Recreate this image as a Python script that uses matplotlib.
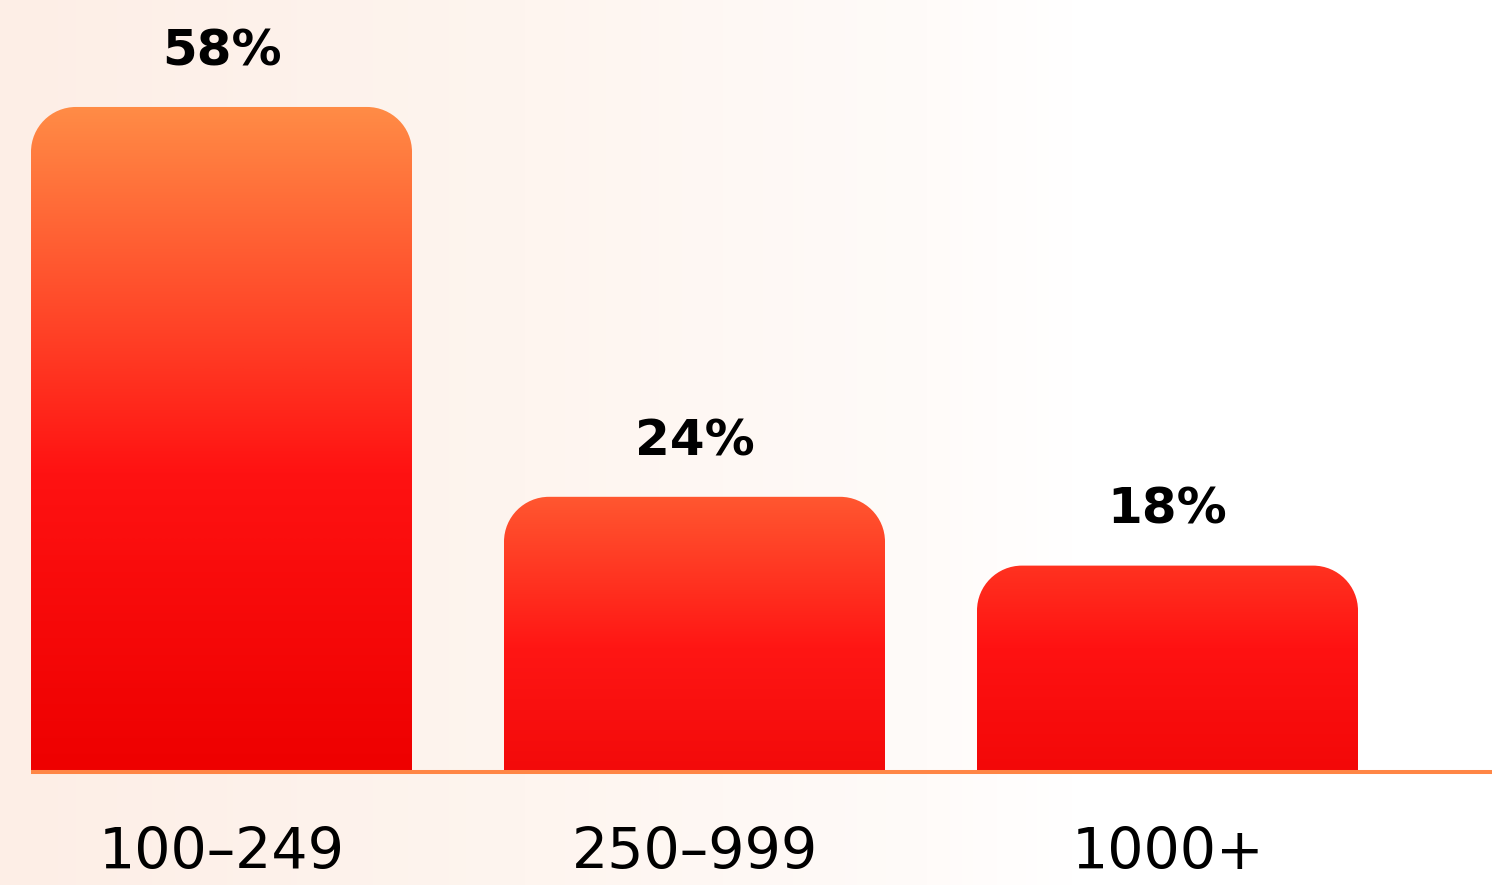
import matplotlib
matplotlib.use("Agg")
import matplotlib.pyplot as plt
import numpy as np
from matplotlib.colors import LinearSegmentedColormap
from matplotlib.path import Path
from matplotlib.patches import PathPatch

# data
categories = ["100–249", "250–999", "1000+"]
values = [58, 24, 18]
labels = ["58%", "24%", "18%"]

# per-bar gradient stops (bottom -> top)
bar_grads = [
    [(0.0, "#ee0000"), (0.45, "#ff1212"), (0.7, "#ff4a2a"), (1.0, "#ff8c46")],
    [(0.0, "#f30a0a"), (0.45, "#ff1614"), (1.0, "#ff5730")],
    [(0.0, "#f30808"), (0.6, "#ff1212"), (1.0, "#ff3220")],
]

fig = plt.figure(figsize=(14.92, 8.85), dpi=100)
ax = fig.add_axes([0, 0, 1, 1])

px_x = 473.0      # pixels per x unit
px_y = 11.466     # pixels per y unit
xlim = (-221.5 / px_x, (1492 - 221.5) / px_x)
ylim = (-113 / px_y, 772 / px_y)
ax.set_xlim(*xlim)
ax.set_ylim(*ylim)
ax.axis("off")

# faint peach background fading to white on the right
bg = LinearSegmentedColormap.from_list(
    "bg", [(0, "#fdeee6"), (0.35, "#fef5ef"), (0.62, "#fffbf9"), (0.72, "#ffffff"), (1, "#ffffff")])
ax.imshow(np.linspace(0, 1, 256).reshape(1, -1), cmap=bg, aspect="auto",
          extent=[xlim[0], xlim[1], ylim[0], ylim[1]], zorder=0)

width = 381 / px_x
rx = 45 / px_x
ry = 45 / px_y
k = 0.5523


def top_rounded(x0, x1, h):
    verts = [(x0, 0), (x0, h - ry),
             (x0, h - ry + k * ry), (x0 + rx - k * rx, h), (x0 + rx, h),
             (x1 - rx, h),
             (x1 - rx + k * rx, h), (x1, h - ry + k * ry), (x1, h - ry),
             (x1, 0), (x0, 0)]
    codes = [Path.MOVETO, Path.LINETO,
             Path.CURVE4, Path.CURVE4, Path.CURVE4,
             Path.LINETO,
             Path.CURVE4, Path.CURVE4, Path.CURVE4,
             Path.LINETO, Path.CLOSEPOLY]
    return Path(verts, codes)


for i, (v, lab, cat) in enumerate(zip(values, labels, categories)):
    x0, x1 = i - width / 2, i + width / 2
    patch = PathPatch(top_rounded(x0, x1, v), facecolor="none", edgecolor="none")
    ax.add_patch(patch)
    cmap = LinearSegmentedColormap.from_list(f"g{i}", bar_grads[i])
    im = ax.imshow(np.linspace(1, 0, 256).reshape(-1, 1), cmap=cmap, aspect="auto",
                   extent=[x0, x1, 0, v], zorder=2, interpolation="bilinear")
    im.set_clip_path(patch)
    ax.annotate(lab, (i, v), xytext=(0, 30), textcoords="offset points",
                ha="center", va="baseline", fontsize=36, fontweight="bold",
                color="black", zorder=4)
    ax.annotate(cat, (i, 0), xytext=(0, -70), textcoords="offset points",
                ha="center", va="baseline", fontsize=41, color="black", zorder=4)

# baseline
ax.plot([-width / 2, xlim[1]], [0, 0], color="#ff8646", linewidth=2.9,
        solid_capstyle="butt", zorder=3)

fig.savefig("out.png", dpi=100)
